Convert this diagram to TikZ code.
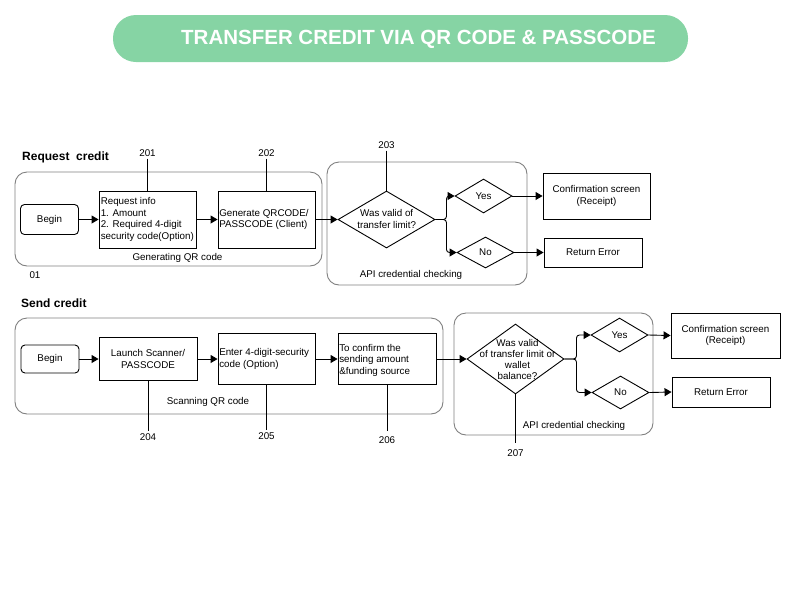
\documentclass[tikz,border=0pt]{standalone}
\usepackage{fontspec}
\setmainfont{Liberation Sans}
\usetikzlibrary{shapes.geometric, arrows.meta, calc}
\definecolor{titlegreen}{HTML}{86D4A4}
\definecolor{groupgray}{HTML}{808080}
\begin{document}
\begin{tikzpicture}[x=1pt,y=-1pt,
  every node/.style={font=\fontsize{9.8}{11.5}\selectfont, inner sep=0pt},
  box/.style={draw, line width=0.9pt},
  beginbox/.style={draw, line width=0.9pt, rounded corners=4pt},
  group/.style={draw=groupgray, line width=0.9pt, rounded corners=12pt},
  dia/.style={draw, diamond, line width=0.9pt},
  arr/.style={line width=0.9pt, -{Triangle[length=7pt,width=8pt]}},
  lnk/.style={line width=0.9pt},
  num/.style={inner sep=2pt},
  heading/.style={font=\bfseries\fontsize{12}{14}\selectfont, anchor=west},
]
\useasboundingbox (0,0) rectangle (800,600);

% title
\node[fill=titlegreen, rounded corners=23pt, minimum width=575pt, minimum height=47pt] (title) at (400.5,38.5) {};
\node[text=white, font=\bfseries\fontsize{20.5}{24}\selectfont] (titletext) at (418.5,39) {TRANSFER CREDIT VIA QR CODE \& PASSCODE};

% ===== Request credit =====
\node[heading] (h1) at (22,157) {Request\ \ credit};
\node[group, minimum width=307pt, minimum height=94pt] (g1) at (168.5,219) {};
\node (g1lab) at (177.5,258) {Generating QR code};
\node (n01) at (35,275) {01};
\node[group, minimum width=200pt, minimum height=123pt] (g2) at (427,223.5) {};
\node (g2lab) at (411,275) {API credential checking};

\node[beginbox, minimum width=58pt, minimum height=30pt] (beg1) at (49.5,219.5) {};
\node at (beg1) {Begin};
\node[box, minimum width=97pt, minimum height=57pt] (b201) at (147.5,219.5) {};
\node[anchor=west, align=left] at ([xshift=2pt]b201.west) {Request info\\1. Amount\\2. Required 4-digit\\security code(Option)};
\node[box, minimum width=97pt, minimum height=57pt] (b202) at (266.5,219.5) {};
\node[anchor=west, align=left] at ([xshift=1.5pt]b202.west) {Generate QRCODE/\\PASSCODE (Client)};

\node[dia, minimum width=97pt, minimum height=57pt] (d1) at (386.5,219.5) {};
\node[align=center] at (386.7,219) {Was valid of\\transfer limit?};
\node[dia, minimum width=57pt, minimum height=34pt] (y1) at (483.5,196) {};
\node at (y1) {Yes};
\node[dia, minimum width=57pt, minimum height=31pt] (no1) at (485.5,252.5) {};
\node at (no1) {No};
\node[box, minimum width=107pt, minimum height=46pt] (c1) at (596.5,196) {};
\node[align=center] at (c1) {Confirmation screen\\(Receipt)};
\node[box, minimum width=98pt, minimum height=29pt] (e1) at (593,252.5) {};
\node at (e1) {Return Error};

\node[num] (n201) at (147.5,153) {201};
\node[num] (n202) at (266.5,153) {202};
\node[num] (n203) at (386.5,145) {203};
\draw[lnk] (n201.south) -- (b201.north);
\draw[lnk] (n202.south) -- (b202.north);
\draw[lnk] (n203.south) -- (d1.north);

\draw[arr] (beg1.east) -- (b201.west);
\draw[arr] (b201.east) -- (b202.west);
\draw[arr] (b202.east) -- (d1.west);
\draw[arr, rounded corners=3pt] (d1.east) -- ($(d1.east)+(11,0)$) |- (y1.west);
\draw[arr, rounded corners=3pt] (d1.east) -- ($(d1.east)+(11,0)$) |- (no1.west);
\draw[arr] (y1.east) -- (c1.west);
\draw[arr] (no1.east) -- (e1.west);

% ===== Send credit =====
\node[heading] (h2) at (21,303) {Send credit};
\node[group, minimum width=428pt, minimum height=96pt] (g3) at (229,366) {};
\node (g3lab) at (208,402) {Scanning QR code};
\node[group, minimum width=199pt, minimum height=122pt] (g4) at (553.5,374) {};
\node (g4lab) at (574,426) {API credential checking};

\node[beginbox, minimum width=58pt, minimum height=28pt] (beg2) at (50,359) {};
\node at (beg2) {Begin};
\node[box, minimum width=98pt, minimum height=43pt] (b204) at (148,359) {};
\node[align=center] at (b204) {Launch Scanner/\\PASSCODE};
\node[box, minimum width=97pt, minimum height=51pt] (b205) at (266.5,359) {};
\node[anchor=west, align=left] at ([xshift=1.5pt]b205.west) {Enter 4-digit-security\\code (Option)};
\node[box, minimum width=98pt, minimum height=51pt] (b206) at (387,359) {};
\node[anchor=west, align=left] at ([xshift=1.5pt,yshift=-1pt]b206.west) {To confirm the\\sending amount\\\&funding source};

\node[dia, minimum width=97pt, minimum height=70pt] (d2) at (515.5,359) {};
\node[align=center, font=\fontsize{9.8}{11}\selectfont] at (517.5,359.5) {Was valid\\of transfer limit or\\wallet\\balance?};
\node[dia, minimum width=57pt, minimum height=34pt] (y2) at (619.5,335) {};
\node at (y2) {Yes};
\node[dia, minimum width=57pt, minimum height=33pt] (no2) at (620.5,392.5) {};
\node at (no2) {No};
\node[box, minimum width=109pt, minimum height=45pt] (c2) at (725.5,335.5) {};
\node[align=center] at (c2) {Confirmation screen\\(Receipt)};
\node[box, minimum width=98pt, minimum height=30pt] (e2) at (721,392) {};
\node at (e2) {Return Error};

\node[num] (n204) at (148,437) {204};
\node[num] (n205) at (266.5,436) {205};
\node[num] (n206) at (387,440) {206};
\node[num] (n207) at (515.5,453) {207};
\draw[lnk] (b204.south) -- (n204.north);
\draw[lnk] (b205.south) -- (n205.north);
\draw[lnk, shorten >=3pt] (b206.south) -- (n206.north);
\draw[lnk, shorten >=4pt] (d2.south) -- (n207.north);

\draw[arr] (beg2.east) -- (b204.west);
\draw[arr] (b204.east) -- (b205.west);
\draw[arr] (b205.east) -- (b206.west);
\draw[arr] (b206.east) -- (d2.west);
\draw[arr, rounded corners=3pt] (d2.east) -- ($(d2.east)+(12,0)$) |- (y2.west);
\draw[arr, rounded corners=3pt] (d2.east) -- ($(d2.east)+(12,0)$) |- (no2.west);
\draw[arr] (y2.east) -- (c2.west);
\draw[arr] (no2.east) -- (e2.west);
\end{tikzpicture}
\end{document}
